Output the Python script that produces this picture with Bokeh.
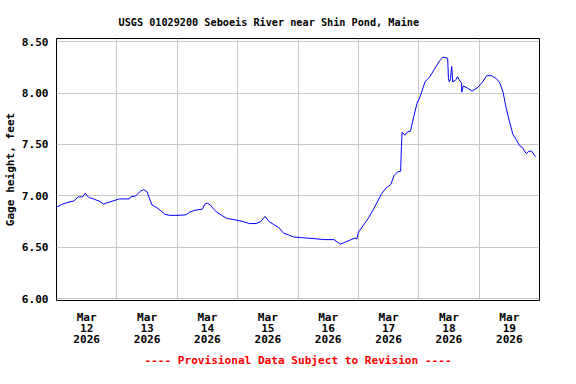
from bokeh.plotting import figure
from bokeh.models import FixedTicker, NumeralTickFormatter, Title, Range1d
from bokeh.embed import file_html
from bokeh.resources import INLINE

# Hours since 2026-03-12 00:00 and gage height (feet)
hours = [0, 2.4, 5.0, 6.9, 8.6, 10.4, 11.4, 12.8, 14.7, 17.3,
         18.6, 19.9, 22.4, 25.0, 28.9, 29.5, 31.5, 33.4, 34.7, 36.0,
         37.0, 38.0, 39.6, 41.2, 43.1, 45.1, 48.3, 51.5, 52.8, 55.0,
         58.0, 58.9, 59.9, 61.2, 62.5, 63.8, 65.7, 67.7, 70.2, 74.1,
         76.7, 79.3, 81.2, 82.9, 84.5, 86.4, 88.4, 90.3, 92.2, 94.2,
         97.4, 102.5, 106.4, 110.3, 111.6, 112.9, 114.8, 116.8, 118.7, 119.4,
         120.0, 121.9, 123.9, 125.8, 127.1, 129.1, 131.0, 132.9, 134.2, 135.5,
         136.8, 137.1, 137.4, 138.5, 139.4, 140.7, 142.0, 143.3, 144.6, 146.5,
         148.4, 150.4, 152.3, 153.6, 155.5, 155.8, 156.2, 156.6, 157.1, 157.5,
         158.8, 159.4, 160.1, 161.0, 161.1, 161.7, 163.3, 165.2, 167.2, 169.1,
         171.0, 173.0, 174.9, 176.2, 177.5, 178.8, 180.1, 181.4, 182.7, 184.0,
         185.3, 185.9, 186.8, 187.8, 188.9, 190.4]
gage = [6.89, 6.92, 6.94, 6.95, 6.99, 6.99, 7.025, 6.985, 6.97, 6.945,
        6.92, 6.93, 6.95, 6.97, 6.97, 6.99, 7.00, 7.046, 7.06, 7.04,
        6.97, 6.91, 6.89, 6.86, 6.82, 6.81, 6.81, 6.815, 6.84, 6.86,
        6.87, 6.917, 6.93, 6.91, 6.87, 6.84, 6.81, 6.78, 6.77, 6.75,
        6.73, 6.73, 6.75, 6.80, 6.75, 6.72, 6.69, 6.636, 6.62, 6.60,
        6.593, 6.583, 6.574, 6.574, 6.55, 6.53, 6.55, 6.57, 6.59, 6.58,
        6.645, 6.71, 6.78, 6.86, 6.92, 7.016, 7.077, 7.11, 7.20, 7.23,
        7.24, 7.48, 7.62, 7.59, 7.62, 7.63, 7.77, 7.90, 7.97, 8.11,
        8.16, 8.24, 8.315, 8.35, 8.34, 8.14, 8.11, 8.14, 8.26, 8.11,
        8.13, 8.16, 8.13, 8.10, 8.01, 8.07, 8.05, 8.02, 8.05, 8.10,
        8.17, 8.17, 8.14, 8.10, 8.01, 7.85, 7.72, 7.60, 7.55, 7.49,
        7.47, 7.44, 7.41, 7.435, 7.435, 7.38]

day_grid = [0, 24, 48, 72, 96, 120, 144, 168, 192]
label_pos = [12, 36, 60, 84, 108, 132, 156, 180]
day_labels = ["Mar\n12\n2026", "Mar\n13\n2026", "Mar\n14\n2026", "Mar\n15\n2026",
              "Mar\n16\n2026", "Mar\n17\n2026", "Mar\n18\n2026", "Mar\n19\n2026"]
y_ticks = [6.0, 6.5, 7.0, 7.5, 8.0, 8.5]

FONT = "DejaVu Sans Mono"
FS = "11.1px"

p = figure(width=560, height=368, output_backend="svg", toolbar_location=None,
           x_range=Range1d(0, 192), y_range=Range1d(5.981, 8.532),
           min_border_left=0, min_border_right=21, min_border_top=38,
           min_border_bottom=66, background_fill_color="white",
           border_fill_color="white")

p.title = Title(text="USGS 01029200 Seboeis River near Shin Pond, Maine",
                align="left", offset=62, text_font=FONT,
                text_font_size="10.2px", text_font_style="bold",
                text_color="black", standoff=22)

p.line(hours, gage, line_color="#0000ff", line_width=1)

p.outline_line_color = "black"
p.outline_line_width = 1

xa = p.xaxis[0]
xa.ticker = FixedTicker(ticks=label_pos, minor_ticks=[])
xa.major_label_overrides = {t: s for t, s in zip(label_pos, day_labels)}
xa.major_label_text_font = FONT
xa.major_label_text_font_size = FS
xa.major_label_text_font_style = "bold"
xa.major_label_text_line_height = 0.87
xa.major_label_text_color = "black"
xa.major_label_standoff = 10
xa.major_tick_out = 0
xa.major_tick_in = 0
xa.minor_tick_out = 0
xa.minor_tick_in = 0
xa.axis_line_color = None
p.xgrid[0].ticker = FixedTicker(ticks=day_grid, minor_ticks=[])
p.xgrid[0].grid_line_color = "#c8c8c8"

ya = p.yaxis[0]
ya.ticker = FixedTicker(ticks=y_ticks, minor_ticks=[])
ya.formatter = NumeralTickFormatter(format="0.00")
ya.major_label_text_font = FONT
ya.major_label_text_font_size = FS
ya.major_label_text_font_style = "bold"
ya.major_label_text_color = "black"
ya.major_label_standoff = 8
ya.major_tick_out = 0
ya.major_tick_in = 0
ya.minor_tick_out = 0
ya.minor_tick_in = 0
ya.axis_line_color = None
ya.axis_label = "Gage height, feet"
ya.axis_label_text_font = FONT
ya.axis_label_text_font_size = FS
ya.axis_label_text_font_style = "bold"
ya.axis_label_text_color = "black"
ya.axis_label_standoff = 2
p.ygrid[0].grid_line_color = "#c8c8c8"

footer = Title(text="---- Provisional Data Subject to Revision ----",
               align="center", text_font=FONT, text_font_size=FS,
               text_font_style="bold", text_color="#ff0000", standoff=4)
p.add_layout(footer, "below")

open("out.html", "w").write(file_html(p, INLINE))
